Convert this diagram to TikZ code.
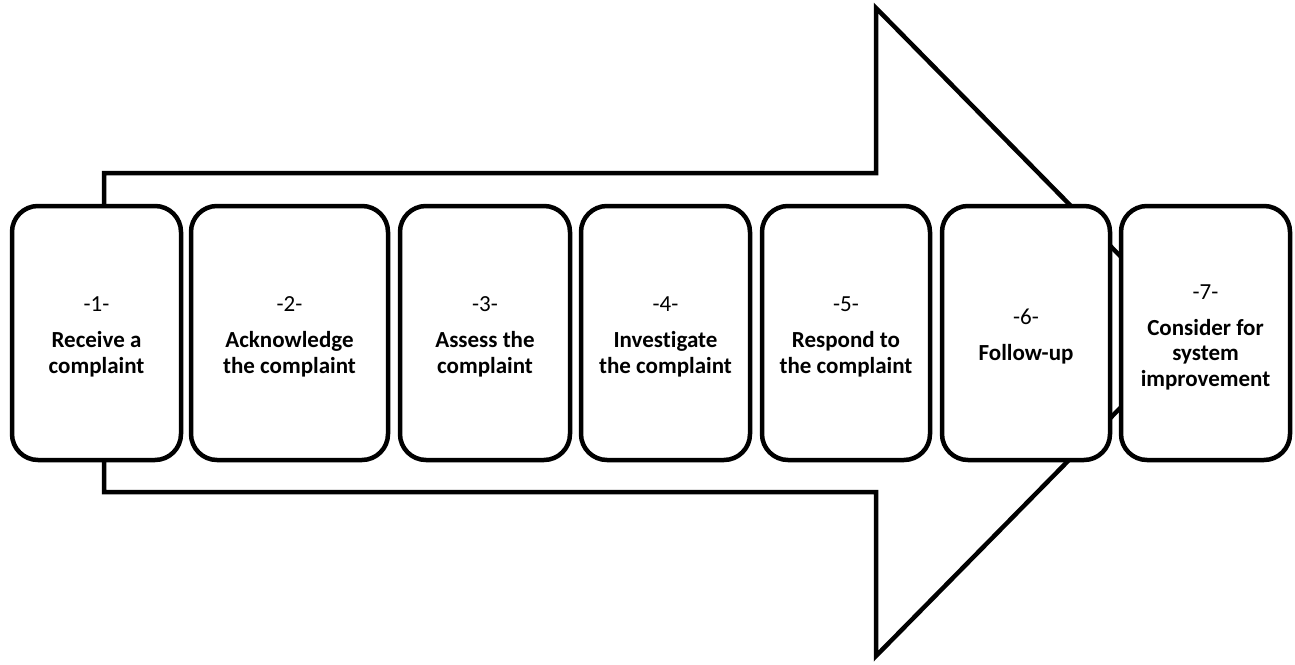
\documentclass[tikz,border=0pt]{standalone}
\usepackage{fontspec}
\setmainfont{Carlito}[Ligatures={NoCommon}]
\begin{document}
\begin{tikzpicture}[x=1pt,y=-1pt,
  stepbox/.style={draw=black, fill=white, line width=4.5pt, rounded corners=26pt,
    minimum height=254pt},
  steptext/.style={align=center, inner sep=0pt, yshift=-4pt,
    font=\fontsize{23}{25.5}\selectfont},
  bigarrow/.style={draw=black, fill=white, line width=4.5pt, miter limit=20}]
\useasboundingbox (0,0) rectangle (1295,664);
\draw[bigarrow] (104,173) coordinate (a1) -- (876,173) coordinate (a2) -- (876,8) coordinate (a3)
  -- (1195,332) coordinate (a4) -- (876,656) coordinate (a5) -- (876,492) coordinate (a6)
  -- (104,492) coordinate (a7) -- cycle;
\node[stepbox, minimum width=169pt] (s1) at (96.5,333) {};
\node[stepbox, minimum width=197pt] (s2) at (289.5,333) {};
\node[stepbox, minimum width=170pt] (s3) at (485,333) {};
\node[stepbox, minimum width=169pt] (s4) at (665.5,333) {};
\node[stepbox, minimum width=168pt] (s5) at (846,333) {};
\node[stepbox, minimum width=168pt] (s6) at (1026,333) {};
\node[stepbox, minimum width=169pt] (s7) at (1205.5,333) {};
\node[steptext] (t1) at (s1.center) {-1-\\[10.5pt]\textbf{Receive a}\\\textbf{complaint}};
\node[steptext] (t2) at (s2.center) {-2-\\[10.5pt]\textbf{Acknowledge}\\\textbf{the complaint}};
\node[steptext] (t3) at (s3.center) {-3-\\[10.5pt]\textbf{Assess the}\\\textbf{complaint}};
\node[steptext] (t4) at (s4.center) {-4-\\[10.5pt]\textbf{Investigate}\\\textbf{the complaint}};
\node[steptext] (t5) at (s5.center) {-5-\\[10.5pt]\textbf{Respond to}\\\textbf{the complaint}};
\node[steptext] (t6) at (s6.center) {-6-\\[10.5pt]\textbf{Follow-up}};
\node[steptext] (t7) at (s7.center) {-7-\\[10.5pt]\textbf{Consider for}\\\textbf{system}\\\textbf{improvement}};
\end{tikzpicture}
\end{document}
